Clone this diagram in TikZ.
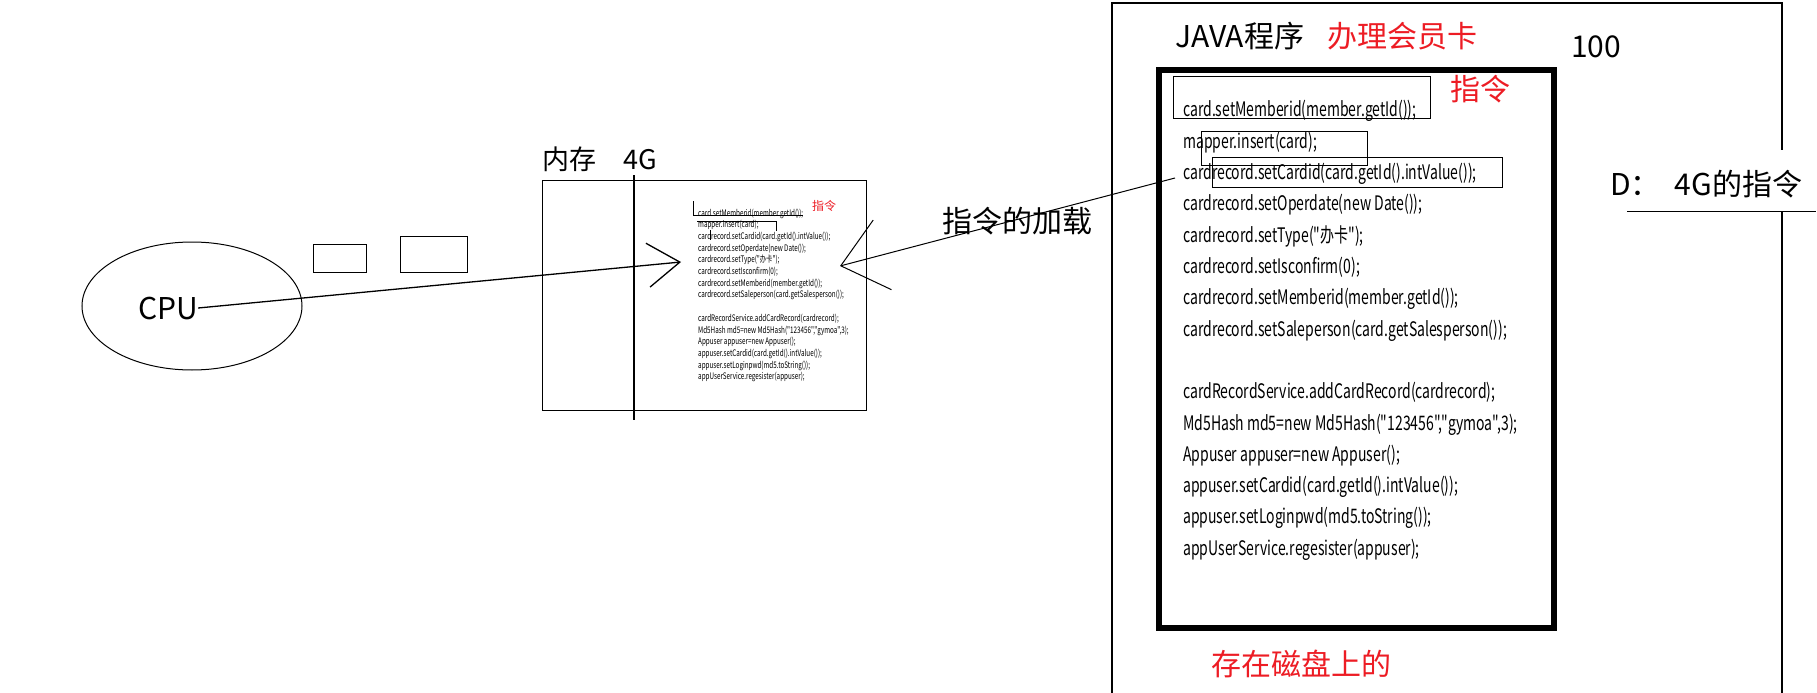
\documentclass[tikz,border=0pt]{standalone}
\usepackage{fontspec}
\setmainfont{Noto Sans CJK SC}
\newfontfamily\codefont[FakeStretch=0.70, Ligatures=TeXOff]{Noto Sans CJK SC}
\usepackage{xcolor}
\usepackage{tikz}
\usetikzlibrary{shapes.geometric, arrows.meta, positioning}
\definecolor{paintred}{RGB}{237, 28, 36}
\newcommand{\cardcode}{%
  {card.setMemberid(member.getId());},
  {mapper.insert(card);},
  {cardrecord.setCardid(card.getId().intValue());},
  {cardrecord.setOperdate(new Date());},
  {cardrecord.setType("办卡");},
  {cardrecord.setIsconfirm(0);},
  {cardrecord.setMemberid(member.getId());},
  {cardrecord.setSaleperson(card.getSalesperson());},
  {},
  {cardRecordService.addCardRecord(cardrecord);},
  {Md5Hash md5=new Md5Hash("123456","gymoa",3);},
  {Appuser appuser=new Appuser();},
  {appuser.setCardid(card.getId().intValue());},
  {appuser.setLoginpwd(md5.toString());},
  {appUserService.regesister(appuser);}}
\tikzset{
  thinline/.style={draw=black, line width=1.3bp},
  cellbox/.style={draw=black, line width=1.3bp, inner sep=0pt, anchor=north west},
  labeltext/.style={anchor=base west, inner sep=0pt, font=\fontsize{30bp}{36bp}\selectfont},
  redtext/.style={labeltext, text=paintred},
  codeline/.style={anchor=base west, inner sep=0pt, font=\codefont\fontsize{20bp}{24bp}\selectfont},
  minicode/.style={anchor=base west, inner sep=0pt, font=\codefont\fontsize{9bp}{10bp}\selectfont},
  cpuline/.style={thinline, -{Straight Barb[length=32bp, width=44bp]}},
  loadline/.style={draw=black, line width=1bp, -{Straight Barb[length=43bp, width=72bp]}}
}
\begin{document}
\begin{tikzpicture}[x=1bp, y=-1bp]
  \useasboundingbox (0,0) rectangle (1817,693);
  \fill[white] (0,0) rectangle (1817,693);

  % CPU and the two small registers
  \node[ellipse, draw, line width=1bp, minimum width=220bp, minimum height=128bp] (cpu) at (192,306) {};
  \node[labeltext, anchor=base] (cpulabel) at (168,319) {CPU};
  \node[cellbox, minimum width=53bp, minimum height=28bp] (regA) at (313,244) {};
  \node[cellbox, minimum width=67bp, minimum height=36bp] (regB) at (400,236) {};

  % Memory
  \node[cellbox, minimum width=324bp, minimum height=230bp] (mem) at (542,180) {};
  \node[labeltext, font=\fontsize{27bp}{32bp}\selectfont] (memlabel) at (542,170) {内存\quad 4G};
  \draw[thinline] (634,175) -- (634,420);
  \foreach \src [count=\i from 0] in \cardcode
    \node[minicode] (mini-\i) at (698,216+11.7*\i) {\src};
  \node[redtext, font=\fontsize{12bp}{14bp}\selectfont] (miniinstr) at (812,210) {指令};
  \draw[line width=1bp] (693,201) |- (803,215);
  \draw[line width=1bp] (697,221) -| (776,231);
  \draw[line width=1bp] (710,230) -- (710,240);

  \coordinate (memin) at (681,262);
  \draw[cpuline] (cpulabel.east) -- (memin);

  % Disk with the program
  \draw[thinline] (1112,693) -- (1112,3) -- (1782,3) -- (1782,693);
  \node[draw, line width=6bp, inner sep=0pt, anchor=north west, minimum width=395bp, minimum height=558bp] (prog) at (1156,67) {};
  \node[labeltext] (progtitle) at (1175,48) {JAVA程序};
  \node[redtext, base right=23bp of progtitle] (cardtask) {办理会员卡};
  \node[labeltext] (count) at (1571,58) {100};
  \node[redtext] (instr) at (1450,101) {指令};

  \foreach \src [count=\i from 0] in \cardcode
    \node[codeline] (code-\i) at (1183,117+31.3*\i) {\src};
  \node[cellbox, minimum width=257bp, minimum height=42bp] (markA) at (1173,76) {};
  \node[cellbox, minimum width=166bp, minimum height=34bp] (markB) at (1201,131) {};
  \node[cellbox, minimum width=290bp, minimum height=30bp] (markC) at (1212,157) {};

  \node[redtext] (stored) at (1211,675) {存在磁盘上的};

  \node[labeltext, fill=white, text height=45bp, text depth=16bp] (dlabel) at (1610,195) {D：\hspace{14bp}4G的指令};
  \draw[thinline] ([xshift=17bp]dlabel.south west) -- ([xshift=14bp]dlabel.south east);

  % Loading the instructions
  \coordinate (loadsrc) at (1175,178);
  \coordinate (memtip) at (840,266);
  \draw[loadline] (loadsrc) -- (memtip);
  \node[labeltext] (loadlabel) at (942,232) {指令的加载};

\end{tikzpicture}
\end{document}
